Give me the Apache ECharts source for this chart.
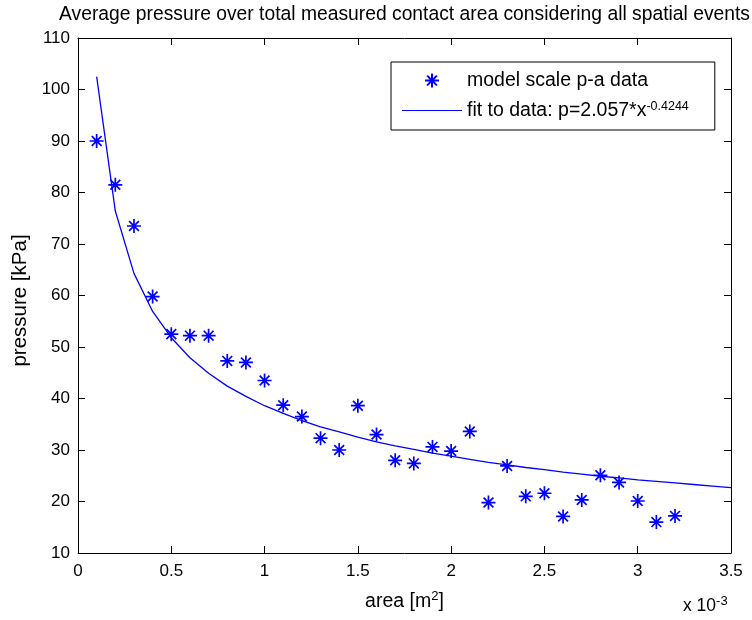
<!DOCTYPE html>
<html>
<head>
<meta charset="utf-8">
<script src="https://cdn.jsdelivr.net/npm/echarts@6/dist/echarts.min.js"></script>
<style>
html,body{margin:0;padding:0;background:#fff;}
#chart{width:752px;height:620px;}
</style>
</head>
<body>
<div id="chart"></div>
<script>
// area in units of 10^-3 m^2
const areaX = [0.1,0.2,0.3,0.4,0.5,0.6,0.7,0.8,0.9,1.0,1.1,1.2,1.3,1.4,1.5,1.6,1.7,1.8,1.9,2.0,2.1,2.2,2.3,2.4,2.5,2.6,2.7,2.8,2.9,3.0,3.1,3.2];
// pressure [kPa]
const pressure = [90,81.5,73.5,59.8,52.5,52.2,52.2,47.3,47,43.5,38.7,36.5,32.3,30,38.6,33,28,27.4,30.6,29.8,33.6,19.8,26.9,21,21.6,17.1,20.3,25.1,23.7,20.1,16,17.2];
// fitted curve p = 2.057 * x^-0.4244, values read at these areas
const fitX = [0.1,0.2,0.3,0.4,0.5,0.6,0.7,0.8,0.9,1.0,1.1,1.2,1.3,1.4,1.5,1.6,1.7,1.8,1.9,2.0,2.1,2.2,2.3,2.4,2.5,2.6,2.7,2.8,2.9,3.0,3.1,3.2,3.3,3.4,3.5];
const fitP = [102.5,76.4,64.3,56.9,51.8,47.9,44.9,42.4,40.4,38.6,37.1,35.7,34.5,33.5,32.5,31.6,30.8,30.1,29.4,28.8,28.2,27.6,27.1,26.6,26.2,25.7,25.3,24.9,24.6,24.2,23.9,23.6,23.3,23.0,22.7];
const xTicks = {min:0, max:3.5, interval:0.5};
const yTicks = {min:10, max:110, interval:10};

const titleText = 'Average pressure over total measured contact area considering all spatial events';
const seriesNames = ['model scale p-a data', 'fit to data'];

const FONT = '"Liberation Sans", Arial, Helvetica, sans-serif';
const BLUE = '#0000ff';
const star = 'path://M0,-6L0,6M-6,0L6,0M-4.2,-4.2L4.2,4.2M-4.2,4.2L4.2,-4.2';

const chart = echarts.init(document.getElementById('chart'), null, {renderer:'canvas'});

function axisBase(show){
  return {
    axisLine:{show:true, onZero:false, lineStyle:{color:'#000', width:1}},
    axisTick:{show:true, inside:true, length:7, lineStyle:{color:'#000', width:1}},
    splitLine:{show:false},
    axisLabel:{show:show, color:'#000', fontFamily:FONT, fontSize:17},
  };
}

const plotCenterX = 78 + (752 - 78 - 21) / 2;

const option = {
  backgroundColor:'#fff',
  animation:false,
  textStyle:{fontFamily:FONT},
  grid:{left:78, right:21, top:38, bottom:67, containLabel:false},
  xAxis:[
    Object.assign(axisBase(true), {
      type:'value', position:'bottom', min:xTicks.min, max:xTicks.max, interval:xTicks.interval,
      axisLabel:{show:true, color:'#000', fontFamily:FONT, fontSize:17, margin:10},
      name:'area [m{sup|2}]', nameLocation:'middle', nameGap:37,
      nameTextStyle:{color:'#000', fontFamily:FONT, fontSize:19.5,
        rich:{sup:{fontSize:13, verticalAlign:'top', padding:[0,0,10,0], color:'#000', fontFamily:FONT}}}
    }),
    Object.assign(axisBase(false), {
      type:'value', position:'top', min:xTicks.min, max:xTicks.max, interval:xTicks.interval
    })
  ],
  yAxis:[
    Object.assign(axisBase(true), {
      type:'value', position:'left', min:yTicks.min, max:yTicks.max, interval:yTicks.interval,
      axisLabel:{show:true, color:'#000', fontFamily:FONT, fontSize:17, margin:8},
      name:'pressure [kPa]', nameLocation:'middle', nameGap:47,
      nameTextStyle:{color:'#000', fontFamily:FONT, fontSize:20.5, padding:[0,10,0,0]}
    }),
    Object.assign(axisBase(false), {
      type:'value', position:'right', min:yTicks.min, max:yTicks.max, interval:yTicks.interval
    })
  ],
  legend:{
    orient:'vertical', left:391, top:62,
    padding:[8,26,9,11], itemGap:9, itemWidth:60, itemHeight:14,
    borderColor:'#000', borderWidth:1, backgroundColor:'#fff',
    data:[
      {name:seriesNames[0]},
      {name:seriesNames[1], icon:'path://M0,0H60V1.2H0Z'}
    ],
    formatter:function(n){
      return n === seriesNames[1] ? 'fit to data: p=2.057*x{sup|-0.4244}' : n;
    },
    textStyle:{color:'#000', fontFamily:FONT, fontSize:19.5, lineHeight:21,
      rich:{sup:{fontSize:12.5, verticalAlign:'top', padding:[0,0,10,0], color:'#000', fontFamily:FONT}}}
  },
  graphic:[
    {type:'text', x:plotCenterX, y:5,
      style:{text:titleText, fill:'#000', font:'19.3px ' + FONT, align:'center', verticalAlign:'top'}},
    {type:'text', x:683, y:595,
      style:{text:'x 10{sup|-3}', fill:'#000', font:'17.5px ' + FONT,
        rich:{sup:{fontSize:13, verticalAlign:'top', padding:[0,0,10,0], fill:'#000', fontFamily:FONT}}}}
  ],
  series:[
    {
      name:seriesNames[0], type:'scatter', xAxisIndex:0, yAxisIndex:0,
      data:areaX.map((x,i)=>[x, pressure[i]]),
      symbol:star, symbolSize:14,
      itemStyle:{color:'rgba(0,0,255,0)', borderColor:BLUE, borderWidth:1.7, opacity:1},
      z:3
    },
    {
      name:seriesNames[1], type:'line', xAxisIndex:0, yAxisIndex:0,
      data:fitX.map((x,i)=>[x, fitP[i]]),
      symbol:'none', showSymbol:false, smooth:false,
      lineStyle:{color:BLUE, width:1.3},
      itemStyle:{color:BLUE},
      z:2
    }
  ]
};
chart.setOption(option);
</script>
</body>
</html>
